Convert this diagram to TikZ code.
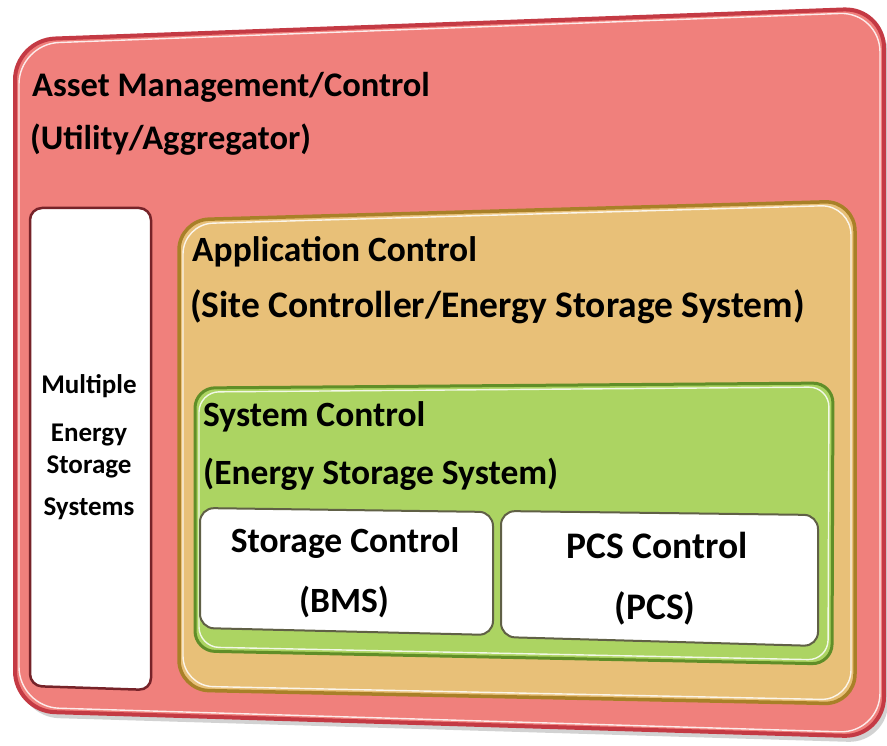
\documentclass[tikz,border=0pt]{standalone}
\usepackage{fontspec}
\setmainfont{Carlito}
\usetikzlibrary{calc}
\definecolor{redfill}{RGB}{240,128,124}
\definecolor{redline}{RGB}{196,58,68}
\definecolor{orfill}{RGB}{232,192,120}
\definecolor{orline}{RGB}{168,128,40}
\definecolor{grfill}{RGB}{172,212,98}
\definecolor{grline}{RGB}{96,142,40}
\definecolor{whfill}{RGB}{255,255,255}
\definecolor{whline}{RGB}{96,96,70}
\newcommand{\bevbox}[5]{%
  \path[fill=#3, draw=#4, line width=#5, rounded corners=#2]
    ($(#1-tl)!0.5!(#1-tr)$) -- (#1-tr) -- (#1-br) -- (#1-bl) -- (#1-tl) -- cycle;
  \draw[white, opacity=.85, line width=1.4pt, rounded corners=#2]
    ($($(#1-tl)!0.5!(#1-tr)$)+(0,4)$) -- ($(#1-tr)+(-4,4)$) -- ($(#1-br)+(-4,-4)$)
    -- ($(#1-bl)+(4,-4)$) -- ($(#1-tl)+(4,4)$) -- cycle;
}
\tikzset{
  top/.style={font=\fontsize{34.5}{40}\selectfont\bfseries, text=black, inner sep=0pt},
  lbl/.style={font=\fontsize{35.5}{40}\selectfont\bfseries, text=black, inner sep=0pt},
  big/.style={font=\fontsize{37.5}{42}\selectfont\bfseries, text=black, inner sep=0pt},
  sml/.style={font=\fontsize{27}{30}\selectfont\bfseries, text=black, inner sep=0pt, anchor=base},
}
\begin{document}
\begin{tikzpicture}[x=1pt, y=-1pt]
\useasboundingbox[fill=white] (0,0) rectangle (887,746);
% corner coordinates
\coordinate (am-tl) at (15,40);  \coordinate (am-tr) at (884,8);
\coordinate (am-br) at (884,737); \coordinate (am-bl) at (15,711);
\coordinate (ms-tl) at (30,208); \coordinate (ms-tr) at (151,208);
\coordinate (ms-br) at (151,690); \coordinate (ms-bl) at (30,686);
\coordinate (ac-tl) at (179,220); \coordinate (ac-tr) at (855,201);
\coordinate (ac-br) at (855,704); \coordinate (ac-bl) at (179,690);
\coordinate (sc-tl) at (195,388); \coordinate (sc-tr) at (833,383);
\coordinate (sc-br) at (832,664); \coordinate (sc-bl) at (195,651);
\coordinate (st-tl) at (200,508); \coordinate (st-tr) at (493,512);
\coordinate (st-br) at (493,635); \coordinate (st-bl) at (200,628);
\coordinate (pc-tl) at (501,511); \coordinate (pc-tr) at (818,515);
\coordinate (pc-br) at (818,646); \coordinate (pc-bl) at (501,637);
% shadow
\fill[black!35, opacity=.5, rounded corners=40pt]
  ($($(am-tl)!0.5!(am-tr)$)+(4,6)$) -- ($(am-tr)+(4,6)$) -- ($(am-br)+(4,6)$) -- ($(am-bl)+(4,6)$) -- ($(am-tl)+(4,6)$) -- cycle;
\bevbox{am}{40pt}{redfill}{redline}{4pt}
\bevbox{ms}{12pt}{whfill}{redline!60!black}{2.5pt}
\bevbox{ac}{30pt}{orfill}{orline}{3.5pt}
\bevbox{sc}{20pt}{grfill}{grline}{3pt}
\bevbox{st}{14pt}{whfill}{whline}{2pt}
\bevbox{pc}{14pt}{whfill}{whline}{2pt}
% texts
\node[top, anchor=base west] (am1) at (32,97) {Asset Management/Control};
\node[top, anchor=base west] (am2) at (30,150) {(Utility/Aggregator)};
\node[lbl, anchor=base west] (ac1) at (192,262) {Application Control};
\node[big, anchor=base west] (ac2) at (190,318) {(Site Controller/Energy Storage System)};
\node[lbl, anchor=base west] (sc1) at (203,426) {System Control};
\node[lbl, anchor=base west] (sc2) at (203,484) {(Energy Storage System)};
\node[lbl, anchor=base] (st1) at (345,552) {Storage Control};
\node[lbl, anchor=base] (st2) at (344,612) {(BMS)};
\node[big, anchor=base] (pc1) at (657,558) {PCS Control};
\node[big, anchor=base] (pc2) at (655,619) {(PCS)};
\node[sml] (ms1) at (89,393) {Multiple};
\node[sml] (ms2) at (89,441) {Energy};
\node[sml] (ms3) at (89,473) {Storage};
\node[sml] (ms4) at (89,515) {Systems};
\end{tikzpicture}
\end{document}
